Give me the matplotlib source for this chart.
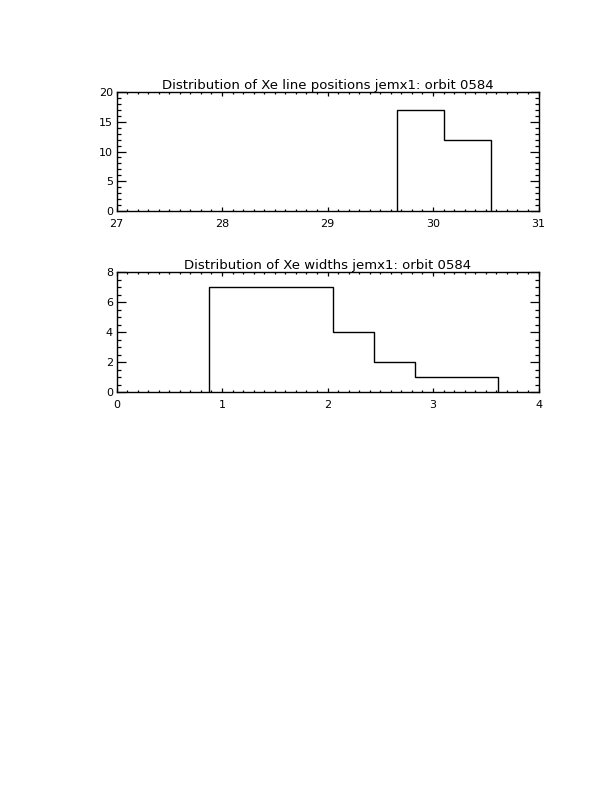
import matplotlib
matplotlib.use("Agg")
import matplotlib.pyplot as plt
from matplotlib.ticker import MultipleLocator

# Data: histogram outlines (bin edges and counts)
pos_edges = [29.66, 30.10, 30.55]
pos_counts = [17, 12]
pos_title = "Distribution of Xe line positions jemx1: orbit 0584"

wid_edges = [0.877, 2.051, 2.444, 2.832, 3.619]
wid_counts = [7, 4, 2, 1]
wid_title = "Distribution of Xe widths jemx1: orbit 0584"

plt.rcParams['font.family'] = ['DejaVu Sans']
fig = plt.figure(figsize=(6.12, 7.92), dpi=100)

W, H = 612.0, 792.0
left, right = 116.5, 538.5

def make_ax(top, bottom):
    return fig.add_axes([left / W, 1 - bottom / H, (right - left) / W, (bottom - top) / H])

ax1 = make_ax(92, 211)
ax2 = make_ax(272, 392)

def style(ax, xlim, ylim, xmaj, xmin, ymaj, ymin, title):
    ax.set_xlim(*xlim)
    ax.set_ylim(*ylim)
    ax.xaxis.set_major_locator(MultipleLocator(xmaj))
    ax.xaxis.set_minor_locator(MultipleLocator(xmin))
    ax.yaxis.set_major_locator(MultipleLocator(ymaj))
    ax.yaxis.set_minor_locator(MultipleLocator(ymin))
    ax.tick_params(axis='both', which='both', direction='in', top=True, right=True,
                   colors='black', labelsize=8, width=0.9)
    ax.tick_params(axis='x', which='major', length=3.0, pad=5.5)
    ax.tick_params(axis='x', which='minor', length=1.5)
    ax.tick_params(axis='y', which='major', length=6.5, pad=2.5)
    ax.tick_params(axis='y', which='minor', length=3.2)
    for sp in ax.spines.values():
        sp.set_linewidth(1.0)
        sp.set_color('black')
    ax.set_title(title, fontsize=9.5, pad=1.5)

ax1.stairs(pos_counts, pos_edges, baseline=0, fill=False, color='black', linewidth=1.0)
style(ax1, (27, 31), (0, 20), 1, 0.1, 5, 1, pos_title)

ax2.stairs(wid_counts, wid_edges, baseline=0, fill=False, color='black', linewidth=1.0)
style(ax2, (0, 4), (0, 8), 1, 0.1, 2, 0.5, wid_title)

fig.savefig("out.png", dpi=100, facecolor='white')
